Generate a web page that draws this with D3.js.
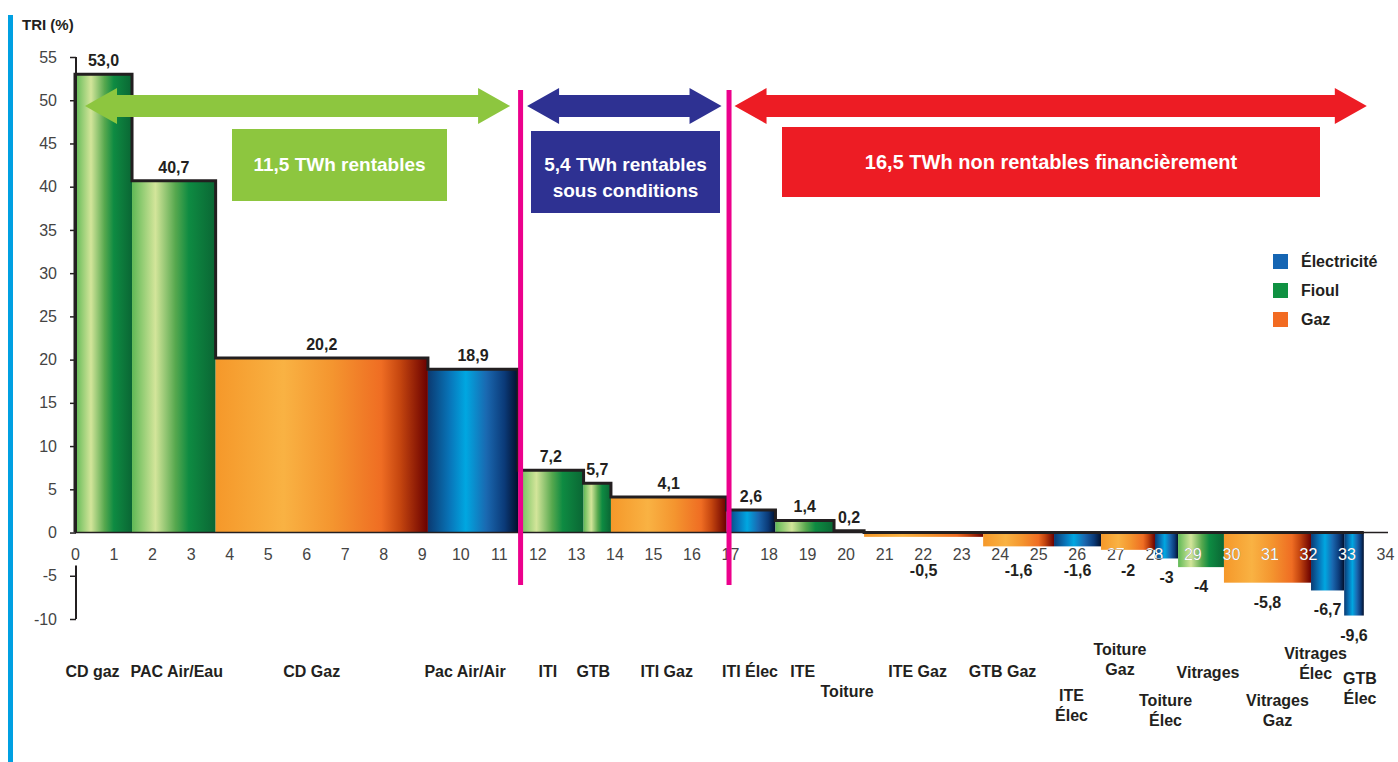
<!DOCTYPE html>
<html><head><meta charset="utf-8">
<script src="https://cdn.jsdelivr.net/npm/d3@7/dist/d3.min.js"></script>
<style>
body{margin:0;background:#fff;}
svg{display:block;font-family:"Liberation Sans",Arial,Helvetica,sans-serif;}
</style>
</head><body>
<svg id="chart" width="1398" height="762"></svg>
<script>
// ---------------- DATA ----------------
const categories = ["CD gaz","PAC Air/Eau","CD Gaz","Pac Air/Air","ITI","GTB","ITI Gaz","ITI Élec","ITE","Toiture","ITE Gaz","GTB Gaz","ITE\nÉlec","Toiture\nGaz","Toiture\nÉlec","Vitrages","Vitrages\nGaz","Vitrages\nÉlec","GTB\nÉlec"];
const energies   = ["Fioul","Fioul","Gaz","Électricité","Fioul","Fioul","Gaz","Électricité","Fioul","Fioul","Gaz","Gaz","Électricité","Gaz","Électricité","Fioul","Gaz","Électricité","Électricité"];
const triValues  = [53.0,40.7,20.2,18.9,7.2,5.7,4.1,2.6,1.4,0.2,-0.5,-1.6,-1.6,-2,-3,-4,-5.8,-6.7,-9.6];
const triLabels  = ["53,0","40,7","20,2","18,9","7,2","5,7","4,1","2,6","1,4","0,2","-0,5","-1,6","-1,6","-2","-3","-4","-5,8","-6,7","-9,6"];
const twhWidths  = [1.48,2.17,5.51,2.34,1.70,0.71,3.00,1.27,1.52,0.78,3.09,1.84,1.22,1.40,0.60,1.19,2.26,0.86,0.51];
const groupSizes = [4,3,12];
const groupTexts = [["11,5 TWh rentables"],["5,4 TWh rentables","sous conditions"],["16,5 TWh non rentables financièrement"]];
const legendItems = ["Électricité","Fioul","Gaz"];
const xTickValues = d3.range(0,35);
const yTickValues = [-10,-5,0,5,10,15,20,25,30,35,40,45,50,55];
const yTitle = "TRI (%)";

// ---------------- STYLE / LAYOUT ----------------
const energyColor = {"Électricité":"#1565b3","Fioul":"#0f9142","Gaz":"#f26b22"};
const gradStops = {
  "Fioul":[[0,"#5fb955"],[0.28,"#d3e59a"],[0.52,"#56a84e"],[0.68,"#0e8b42"],[1,"#0a6634"]],
  "Gaz":[[0,"#f5982a"],[0.32,"#f9b243"],[0.55,"#f4952f"],[0.78,"#ef6d23"],[0.87,"#c4450f"],[1,"#6a0000"]],
  "Électricité":[[0,"#0b3a72"],[0.25,"#0877bb"],[0.42,"#00a7e1"],[0.65,"#1a68b0"],[0.85,"#0b3a78"],[1,"#02102c"]]
};
const groupColors = ["#8dc63f","#2e3192","#ed1c24"];
const arrowPad = [[10,8],[9,5],[8,-3]];
const boxes = [{x0:232,x1:447,y0:129,y1:201},{x0:531,x1:720,y0:131,y1:213},{x0:782,x1:1320,y0:127,y1:197}];
const boxFont = [19,19,20];
const boxTextShift = [-1,5,0];
// category label layout: dx from bar centre, baseline of first line
const catLayout = [[-11,677],[3,677],[-10,677],[-8,677],[-3,677],[-4,677],[-2,677],[-1,677],[-2,677],[-2,697],[-6,677],[-16,677],[-6,701],[-8,655],[-1,706],[7,678],[10,706],[-12,659],[6,684]];

const svg = d3.select("#chart");
const x = d3.scaleLinear().domain([0,34]).range([75,1385]);
const y = d3.scaleLinear().domain([-10,55]).range([619,57]);

// bars data
let acc = 0;
const bars = triValues.map((v,i)=>{const s=acc; acc+=twhWidths[i]; return {i,v,s,e:acc,cat:categories[i],en:energies[i],lab:triLabels[i]};});
const total = acc;

// gradients
const defs = svg.append("defs");
Object.entries(gradStops).forEach(([k,stops],j)=>{
  const g = defs.append("linearGradient").attr("id","grad"+j).attr("x1","0").attr("x2","1").attr("y1","0").attr("y2","0");
  stops.forEach(s=>g.append("stop").attr("offset",s[0]).attr("stop-color",s[1]));
});
const gradId = k => "url(#grad"+Object.keys(gradStops).indexOf(k)+")";

// left blue rule
svg.append("rect").attr("x",8).attr("y",15).attr("width",5).attr("height",747).attr("fill","#00a0e2");

// y title
svg.append("text").attr("x",22).attr("y",30).attr("font-size",15).attr("font-weight","bold").attr("fill","#231f20").text(yTitle);

// bars
svg.append("g").selectAll("rect").data(bars).join("rect")
  .attr("x",d=>x(d.s)).attr("width",d=>x(d.e)-x(d.s))
  .attr("y",d=>y(Math.max(d.v,0))).attr("height",d=>Math.abs(y(d.v)-y(0)))
  .attr("fill",d=>gradId(d.en));

// y axis
const yAxis = svg.append("g").attr("transform","translate(76,0)")
  .call(d3.axisLeft(y).tickValues(yTickValues).tickSize(6).tickPadding(13).tickFormat(d=>d));
yAxis.select(".domain").remove();
yAxis.selectAll(".tick line").attr("stroke","#231f20").attr("stroke-width",1.5);
yAxis.selectAll("text").attr("font-size",16).attr("fill","#444").attr("font-family","'Liberation Sans',Arial,sans-serif");
svg.append("line").attr("x1",76).attr("x2",76).attr("y1",y(55)).attr("y2",y(0)).attr("stroke","#231f20").attr("stroke-width",2);
svg.append("line").attr("x1",76).attr("x2",76).attr("y1",y(-3.8)).attr("y2",y(-10)).attr("stroke","#231f20").attr("stroke-width",2);

// x axis
const xAxis = svg.append("g").attr("transform",`translate(0,${y(0)})`)
  .call(d3.axisBottom(x).tickValues(xTickValues).tickSize(0).tickSizeOuter(0).tickPadding(16).tickFormat(d=>d));
xAxis.select(".domain").attr("stroke","#231f20").attr("stroke-width",1.5).attr("d",`M${x(0)},0H${x(34)+3}`);
xAxis.selectAll("text").attr("font-size",16).attr("fill","#444").attr("font-family","'Liberation Sans',Arial,sans-serif");
// white copies inside negative bars
const clipT = defs.append("clipPath").attr("id","barclipT");
clipT.selectAll("rect").data(bars.filter(d=>d.v<0)).join("rect")
  .attr("x",d=>x(d.s)).attr("width",d=>x(d.e)-x(d.s))
  .attr("y",0).attr("height",d=>y(d.v)-y(0));
const xAxisW = svg.append("g").attr("transform",`translate(0,${y(0)})`).attr("clip-path","url(#barclipT)");
xAxisW.call(d3.axisBottom(x).tickValues(xTickValues).tickSize(0).tickSizeOuter(0).tickPadding(16).tickFormat(d=>d));
xAxisW.select(".domain").remove();
xAxisW.selectAll("text").attr("font-size",16).attr("fill","#ffffff").attr("font-family","'Liberation Sans',Arial,sans-serif");

// step outline
const pts = [[0,0]].concat(bars.map(d=>[d.s,Math.max(d.v,0)])).concat([[total,0]]);
svg.append("path").attr("d",d3.line().x(d=>x(d[0])).y(d=>y(d[1])).curve(d3.curveStepAfter)(pts))
  .attr("fill","none").attr("stroke","#231f20").attr("stroke-width",3).attr("stroke-linejoin","miter");

// value labels
svg.append("g").selectAll("text").data(bars).join("text")
  .attr("x",d=>(x(d.s)+x(d.e))/2)
  .attr("y",d=>d.v>=0 ? y(d.v)-8 : Math.max(y(d.v)+25,576))
  .attr("text-anchor","middle").attr("font-size",16).attr("font-weight","bold").attr("fill","#231f20")
  .text(d=>d.lab);

// category labels
const cl = svg.append("g").selectAll("text").data(bars).join("text")
  .attr("x",d=>(x(d.s)+x(d.e))/2 + catLayout[d.i][0])
  .attr("y",d=>catLayout[d.i][1])
  .attr("text-anchor","middle").attr("font-size",16).attr("font-weight","bold").attr("fill","#231f20");
cl.each(function(d){
  const lines = d.cat.split("\n");
  const cx = (x(d.s)+x(d.e))/2 + catLayout[d.i][0];
  d3.select(this).selectAll("tspan").data(lines).join("tspan")
    .attr("x",cx).attr("dy",(l,k)=>k===0?0:19.5).text(l=>l);
});

// group boundaries (pink lines)
let gi = 0; const gBounds = [0];
groupSizes.forEach(n=>{gi+=n; gBounds.push(bars[gi-1].e);});
gBounds.slice(1,-1).forEach(b=>{
  svg.append("rect").attr("x",x(b)).attr("y",90).attr("width",5).attr("height",495).attr("fill","#ec008c");
});

// arrows & boxes
function arrowPath(x1,x2,cy){
  const hl=32, hh=18, sh=11;
  return `M${x1},${cy}L${x1+hl},${cy-hh}L${x1+hl},${cy-sh}L${x2-hl},${cy-sh}L${x2-hl},${cy-hh}L${x2},${cy}L${x2-hl},${cy+hh}L${x2-hl},${cy+sh}L${x1+hl},${cy+sh}L${x1+hl},${cy+hh}Z`;
}
groupSizes.forEach((n,k)=>{
  const x1 = x(gBounds[k])+arrowPad[k][0], x2 = x(gBounds[k+1])-arrowPad[k][1];
  svg.append("path").attr("d",arrowPath(x1,x2,106)).attr("fill",groupColors[k]);
  const b = boxes[k];
  svg.append("rect").attr("x",b.x0).attr("y",b.y0).attr("width",b.x1-b.x0).attr("height",b.y1-b.y0).attr("fill",groupColors[k]);
  const lines = groupTexts[k];
  const cy = (b.y0+b.y1)/2 + boxTextShift[k], lh = 26;
  lines.forEach((t,j)=>{
    svg.append("text").attr("x",(b.x0+b.x1)/2).attr("y",cy + (j-(lines.length-1)/2)*lh + boxFont[k]*0.36)
      .attr("text-anchor","middle").attr("font-size",boxFont[k]).attr("font-weight","bold").attr("fill","#ffffff").text(t);
  });
});

// legend
const lg = svg.append("g").selectAll("g").data(legendItems).join("g")
  .attr("transform",(d,i)=>`translate(1273,${254+i*29})`);
lg.append("rect").attr("width",15).attr("height",15).attr("fill",d=>energyColor[d]);
lg.append("text").attr("x",28).attr("y",13).attr("font-size",16).attr("font-weight","bold").attr("fill","#231f20").text(d=>d);
</script>
</body></html>
